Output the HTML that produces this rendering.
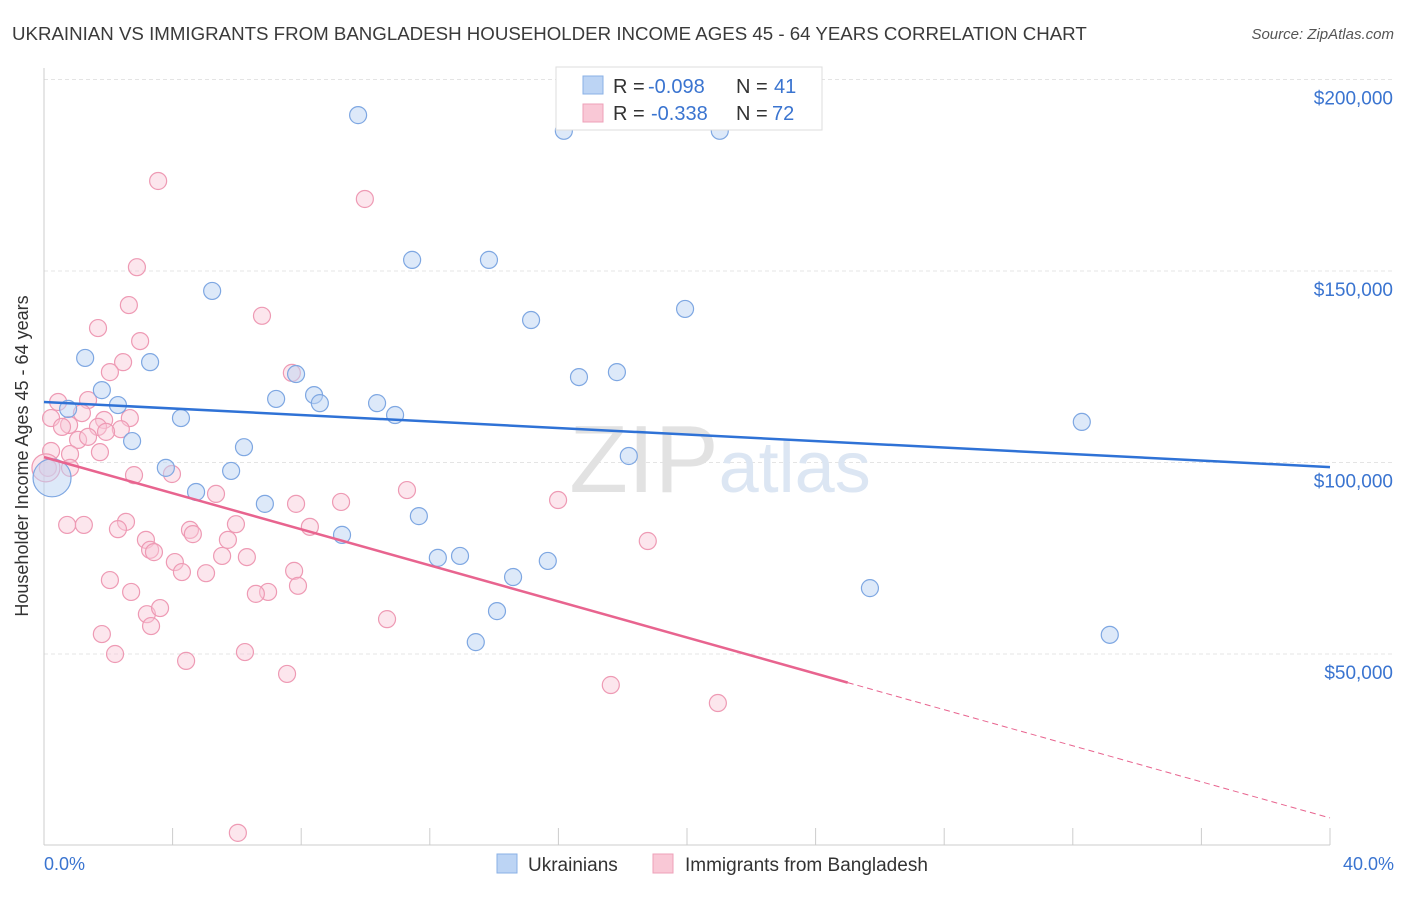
<!DOCTYPE html>
<html><head><meta charset="utf-8"><style>
body{margin:0;background:#fff;font-family:"Liberation Sans",sans-serif}
svg text{font-family:"Liberation Sans",sans-serif}
</style></head><body>
<svg width="1406" height="892" viewBox="0 0 1406 892">
<text x="12" y="40" font-size="18.7" fill="#3a3a3a">UKRAINIAN VS IMMIGRANTS FROM BANGLADESH HOUSEHOLDER INCOME AGES 45 - 64 YEARS CORRELATION CHART</text>
<text x="1394" y="39" font-size="15" fill="#555" font-style="italic" text-anchor="end">Source: ZipAtlas.com</text>
<g id="grid"></g>
<text x="720" y="492" font-size="96" fill="#e6e6e6" text-anchor="middle" font-family="Liberation Serif"><tspan fill="#e2e2e2">ZIP</tspan><tspan fill="#dce6f3" font-family="Liberation Sans" font-size="72">atlas</tspan></text>
<line x1="44" y1="68" x2="44" y2="845" stroke="#ccc"/>
<line x1="44" y1="845" x2="1330" y2="845" stroke="#ccc"/>
<g id="ticks"></g>
<text x="28" y="456" font-size="18" fill="#333" text-anchor="middle" transform="rotate(-90 28 456)">Householder Income Ages 45 - 64 years</text>
<text x="44" y="870" font-size="18" fill="#3a74d0">0.0%</text>
<text x="1394" y="870" font-size="18" fill="#3a74d0" text-anchor="end">40.0%</text>
<g id="pts"></g>
<g id="lines"></g>
<g>
<rect x="556" y="67" width="266" height="63" fill="#fff" stroke="#ddd"/>
<rect x="583" y="76" width="20" height="18" fill="#bcd4f4" stroke="#8ab0e6"/>
<rect x="583" y="104" width="20" height="18" fill="#f9c8d6" stroke="#eea0b8"/>
<g font-size="20" fill="#333">
<text x="613" y="93">R =</text><text x="648" y="93" fill="#3a74d0">-0.098</text><text x="736" y="93">N =</text><text x="774" y="93" fill="#3a74d0">41</text></g>
<g font-size="20" fill="#333">
<text x="613" y="120">R =</text><text x="651" y="120" fill="#3a74d0">-0.338</text><text x="736" y="120">N =</text><text x="772" y="120" fill="#3a74d0">72</text></g>
</g>
<rect x="497" y="854" width="20" height="19" fill="#bcd4f4" stroke="#8ab0e6"/>
<text x="528" y="871" font-size="19" fill="#333">Ukrainians</text>
<rect x="653" y="854" width="20" height="19" fill="#f9c8d6" stroke="#eea0b8"/>
<text x="685" y="871" font-size="19" fill="#333">Immigrants from Bangladesh</text>
</svg>
<script>
const yTicks=[50000,100000,150000,200000];
const yTickLabels=["$50,000","$100,000","$150,000","$200,000"];
const xTicks=[0,4,8,12,16,20,24,28,32,36,40];
const blueX=[9.77,16.17,21.02,11.45,13.84,5.23,19.94,15.15,1.28,3.30,7.84,16.64,17.82,1.80,7.22,8.40,8.58,2.30,0.75,10.36,10.92,4.26,32.28,2.74,6.22,18.19,3.79,5.82,4.73,6.87,11.66,9.27,12.25,12.94,15.67,14.59,14.09,25.69,13.43,33.15,0.25];
const blueY=[190.7,186.6,186.6,152.9,152.9,144.8,140.1,137.2,127.3,126.2,123.1,122.3,123.6,118.9,116.6,117.6,115.5,115.0,114.0,115.5,112.4,111.6,110.6,105.6,104.0,101.7,98.6,97.8,92.3,89.2,86.0,81.1,75.1,75.6,74.3,70.1,61.2,67.2,53.1,55.0,96.0];
const pinkX=[3.55,9.98,2.89,2.64,6.78,1.68,2.99,2.46,2.05,7.71,0.44,1.37,0.22,1.18,1.87,0.78,0.56,2.67,2.39,1.68,1.93,1.06,1.37,0.81,1.74,0.22,0.12,0.81,2.80,3.98,11.29,5.35,9.24,15.99,7.84,2.55,0.72,1.24,5.97,2.30,4.54,4.63,8.27,3.17,5.72,3.30,3.42,4.07,5.54,6.31,7.78,4.29,5.04,2.05,7.90,6.97,6.59,2.71,3.20,3.61,3.33,10.67,18.78,1.80,2.21,4.42,6.25,7.56,17.63,20.96,6.03,0.06];
const pinkY=[173.5,168.8,151.0,141.1,138.3,135.1,131.7,126.2,123.6,123.4,115.8,116.3,111.6,112.9,111.1,109.8,109.3,111.6,108.7,109.3,108.0,105.9,106.7,102.2,102.7,103.0,98.6,98.6,96.7,97.0,92.8,91.8,89.7,90.2,89.2,84.5,83.7,83.7,83.9,82.6,82.4,81.3,83.2,79.8,79.8,77.2,76.6,74.0,75.6,75.3,71.7,71.4,71.1,69.3,67.8,66.2,65.7,66.2,60.4,62.0,57.3,59.1,79.5,55.2,50.0,48.2,50.5,44.8,41.9,37.2,3.3,98.6];
const blueLine=[115.8,98.8];
const pinkLine=[101.4,7.2];
const pinkSolidEnd=25;
const NS="http://www.w3.org/2000/svg";
const xs=v=>44+v/40*1286;
const ys=v=>845.5-v/50000*191.5;
const yk=v=>ys(v*1000);
function mk(t,a,p){const e=document.createElementNS(NS,t);for(const k in a)e.setAttribute(k,a[k]);p.appendChild(e);return e;}
const grid=document.getElementById('grid');
yTicks.forEach((v,i)=>{
 const l=mk('line',{x1:44,x2:1394,y1:ys(v),y2:ys(v),stroke:'#e4e4e4','stroke-dasharray':'4 3'},grid);
 
 
 const t=mk('text',{x:1393,y:ys(v)+25,'font-size':19,fill:'#3a74d0','text-anchor':'end'},grid);
 t.textContent=yTickLabels[i];
 
 
});
const tk=document.getElementById('ticks');
xTicks.forEach(v=>{
 const l=mk('line',{x1:xs(v),x2:xs(v),y1:828,y2:845,stroke:'#ccc'},tk);
 
 
});
const pts=document.getElementById('pts');
pinkX.forEach((x,i)=>{
 const big=i===pinkX.length-1;
 const c=mk('circle',{cx:xs(x),cy:yk(pinkY[i]),r:big?14:8.5,fill:'#f9c8d6','fill-opacity':0.45,stroke:'#ee9ab4','stroke-width':1.2},pts);
 
 
});
blueX.forEach((x,i)=>{
 const big=i===blueX.length-1;
 const c=mk('circle',{cx:xs(x),cy:yk(blueY[i]),r:big?19:8.5,fill:'#bcd4f4','fill-opacity':0.5,stroke:'#7ea7e2','stroke-width':1.2},pts);
 
 
});
const ln=document.getElementById('lines');
const b=mk('line',{x1:xs(0),y1:yk(blueLine[0]),x2:xs(40),y2:yk(blueLine[1]),stroke:'#2f72d6','stroke-width':2.5},ln);


const pm=v=>pinkLine[0]+(pinkLine[1]-pinkLine[0])*v/40;
const p1=mk('line',{x1:xs(0),y1:yk(pm(0)),x2:xs(pinkSolidEnd),y2:yk(pm(pinkSolidEnd)),stroke:'#e8648f','stroke-width':2.5},ln);


const p2=mk('line',{x1:xs(pinkSolidEnd),y1:yk(pm(pinkSolidEnd)),x2:xs(40),y2:yk(pm(40)),stroke:'#e8648f','stroke-width':1,'stroke-dasharray':'6 4'},ln);


</script>
</body></html>
